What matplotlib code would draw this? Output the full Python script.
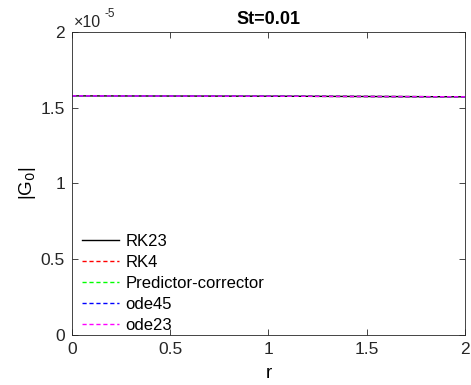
import matplotlib.pyplot as plt
import numpy as np

plt.rcParams['font.family'] = ['Liberation Sans', 'DejaVu Sans']

# |G0| along r for each integrator
r = [0.0, 0.5, 1.0, 1.5, 2.0]
g_rk23 = [1.578e-5, 1.577e-5, 1.576e-5, 1.574e-5, 1.572e-5]
g_rk4 = [1.578e-5, 1.577e-5, 1.576e-5, 1.574e-5, 1.572e-5]
g_pc = [1.578e-5, 1.577e-5, 1.576e-5, 1.574e-5, 1.572e-5]
g_ode45 = [1.578e-5, 1.577e-5, 1.576e-5, 1.574e-5, 1.572e-5]
g_ode23 = [1.578e-5, 1.577e-5, 1.576e-5, 1.574e-5, 1.572e-5]
names = ['RK23', 'RK4', 'Predictor-corrector', 'ode45', 'ode23']

fig = plt.figure(figsize=(4.71, 3.85), dpi=100)
ax = fig.add_axes([0.153, 0.130, 0.834, 0.787])

ax.plot(r, g_rk23, color='k', lw=1.0, label=names[0])
ax.plot(r, g_rk4, color='r', ls='--', lw=1.0, dashes=(3, 2), label=names[1])
ax.plot(r, g_pc, color='#00ff00', ls='--', lw=1.0, dashes=(3, 2), label=names[2])
ax.plot(r, g_ode45, color='b', ls='--', lw=1.0, dashes=(3, 2), label=names[3])
ax.plot(r, g_ode23, color='#ff00ff', ls='--', lw=1.0, dashes=(3, 2), label=names[4])

ax.set_xlim(0, 2)
ax.set_ylim(0, 2e-5)
ax.set_xticks([0, 0.5, 1, 1.5, 2])
ax.set_xticklabels(['0', '0.5', '1', '1.5', '2'])
ax.set_yticks(np.array([0, 0.5, 1, 1.5, 2]) * 1e-5)
ax.set_yticklabels(['0', '0.5', '1', '1.5', '2'])
ax.tick_params(direction='in', top=True, right=True, labelsize=12.5,
               colors='#262626', length=4, width=0.6, pad=5)
for s in ax.spines.values():
    s.set_color('#262626')
    s.set_linewidth(0.6)

ax.text(0.005, 1.005, '×10', transform=ax.transAxes,
        fontsize=11.5, color='#262626', va='bottom', ha='left')
ax.text(0.083, 1.04, '-5', transform=ax.transAxes,
        fontsize=8.5, color='#262626', va='bottom', ha='left')

ax.set_title('St=0.01', fontsize=13, fontweight='bold', pad=6)
ax.set_xlabel('r', fontsize=13.5, labelpad=6)
ax.set_ylabel(r'|G$_0$|', fontsize=13.5, labelpad=2)

ax.legend(loc='lower left', bbox_to_anchor=(0.0, -0.025), frameon=False,
          fontsize=12, handlelength=2.2, handletextpad=0.4,
          labelspacing=0.35, borderaxespad=0.2)

fig.savefig('out.png', dpi=100)
